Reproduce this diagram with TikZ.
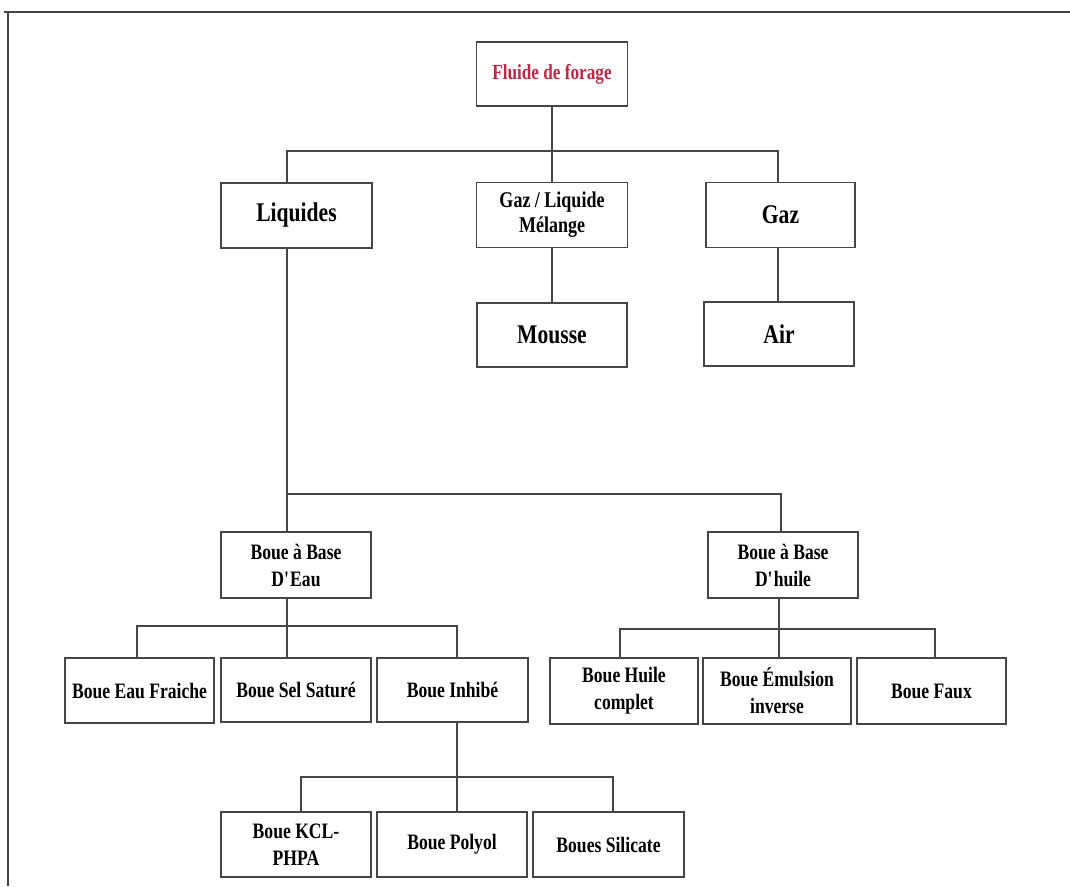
\documentclass[tikz,border=0pt]{standalone}
\usepackage{fontspec}
\setmainfont{Liberation Serif}[FakeStretch=0.8]
\definecolor{ln}{RGB}{70,70,70}
\definecolor{redtxt}{RGB}{190,40,70}
\begin{document}
\begin{tikzpicture}[x=1pt,y=-1pt,
  box/.style={draw=ln,line width=1.6pt,fill=white,align=center,inner sep=0pt},
  big/.style={box,font=\fontsize{27}{29}\selectfont\bfseries},
  mid/.style={box,font=\fontsize{22.5}{25}\selectfont\bfseries},
  small/.style={box,font=\fontsize{22}{27}\selectfont\bfseries},
  link/.style={draw=ln,line width=1.6pt},
  frame/.style={draw=ln,line width=2pt}]
\useasboundingbox (0,0) rectangle (1070,886);
% outer frame (top and left edges)
\coordinate (ftl) at (8,11.5);
\coordinate (ftr) at (1070,11.5);
\coordinate (fbl) at (8,886);
\coordinate (ftl0) at (4,11.5);
\draw[frame] (ftl0) -- (ftr);
\draw[frame] (ftl) -- (fbl);

% nodes
\node[box,minimum width=151pt,minimum height=64pt,text=redtxt,font=\fontsize{21.5}{24}\selectfont\bfseries] (fluide) at (552,74) {Fluide de forage};

\node[big,minimum width=151pt,minimum height=65pt] (liq) at (296.5,215.5) {Liquides};
\node[mid,minimum width=151pt,minimum height=65pt] (gl) at (552,215) {Gaz / Liquide\\Mélange};
\node[big,minimum width=149pt,minimum height=65pt] (gaz) at (780.5,215) {Gaz};
\node[big,minimum width=150pt,minimum height=64pt] (mousse) at (552,335) {Mousse};
\node[big,minimum width=150pt,minimum height=64pt] (air) at (779,334) {Air};

\node[small,minimum width=150pt,minimum height=66pt] (eau) at (296,565) {Boue à Base\\D\textquotesingle Eau};
\node[small,minimum width=150pt,minimum height=66pt] (huile) at (783,565) {Boue à Base\\D\textquotesingle huile};

\node[small,minimum width=149pt,minimum height=65pt] (fraiche) at (139.5,690.5) {Boue Eau Fraiche};
\node[small,minimum width=150pt,minimum height=64pt] (sel) at (296,690) {Boue Sel Saturé};
\node[small,minimum width=151pt,minimum height=64pt] (inhibe) at (452.5,690) {Boue Inhibé};

\node[small,minimum width=148pt,minimum height=66pt] (hcomplet) at (624,691) {Boue Huile\\complet};
\node[small,minimum width=148pt,minimum height=66pt] (emulsion) at (777,691) {Boue Émulsion\\inverse};
\node[small,minimum width=149pt,minimum height=66pt] (faux) at (931.5,691) {Boue Faux};

\node[small,minimum width=150pt,minimum height=65pt] (kcl) at (296,844.5) {Boue KCL-\\PHPA};
\node[small,minimum width=150pt,minimum height=65pt] (polyol) at (452,844.5) {Boue Polyol};
\node[small,minimum width=151pt,minimum height=65pt] (silicate) at (608.5,844.5) {Boues Silicate};

% junctions
\coordinate (b1) at (552,151);
\coordinate (b2) at (287,494);
\coordinate (b3) at (287,626);
\coordinate (b4) at (779,629);
\coordinate (b5) at (457,777);

% connectors
\draw[link] (fluide.south) -- (b1);
\draw[link] ([xshift=-9.5pt]liq.north) |- (b1) -| ([xshift=-2.5pt]gaz.north);
\draw[link] (b1) -- (gl.north);
\draw[link] (gl.south) -- (mousse.north);
\draw[link] ([xshift=-2.5pt]gaz.south) -- ([xshift=-1pt]air.north);

\draw[link] ([xshift=-9.5pt]liq.south) -- ([xshift=-9pt]eau.north);
\draw[link] (b2) -| ([xshift=-2pt]huile.north);

\draw[link] ([xshift=-9pt]eau.south) -- ([xshift=-9pt]sel.north);
\draw[link] ([xshift=-2.5pt]fraiche.north) |- (b3) -| ([xshift=4.5pt]inhibe.north);

\draw[link] ([xshift=-4pt]huile.south) -- ([xshift=2pt]emulsion.north);
\draw[link] ([xshift=-4pt]hcomplet.north) |- (b4) -| ([xshift=3.5pt]faux.north);

\draw[link] ([xshift=4.5pt]inhibe.south) -- ([xshift=5pt]polyol.north);
\draw[link] ([xshift=5pt]kcl.north) |- (b5) -| ([xshift=4.5pt]silicate.north);
\end{tikzpicture}
\end{document}
